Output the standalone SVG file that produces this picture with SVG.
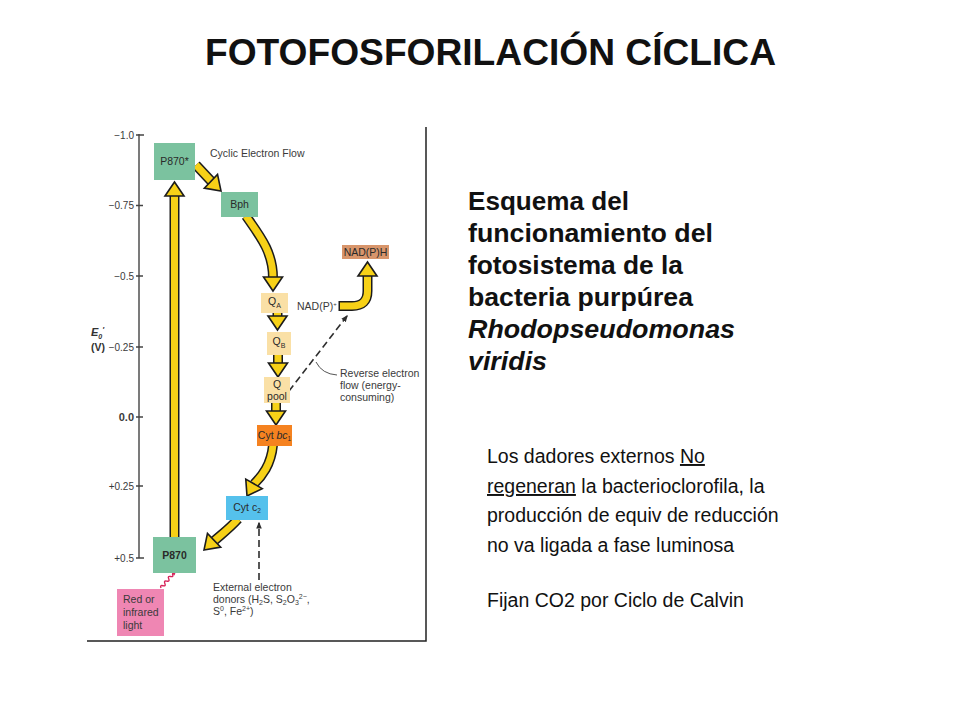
<svg xmlns="http://www.w3.org/2000/svg" xmlns:xlink="http://www.w3.org/1999/xlink" width="960" height="720" viewBox="0 0 960 720">
<defs>
<style>
text{font-family:"Liberation Sans",Arial,sans-serif;}
.ax{fill:#3a3a3a;font-size:10px;}
.lbl{fill:#3a3a3a;font-size:10.5px;}
.bx{font-size:10.5px;fill:#2a2a2a;text-anchor:middle;}
.so{fill:none;stroke:#1c1c1c;stroke-width:10;}
.si{fill:none;stroke:#f7d117;stroke-width:7;}
.dash{fill:none;stroke:#2e2e2e;stroke-width:1.6;stroke-dasharray:7,4;}
.g{fill:#7bc29f;}
.q{fill:#fae0a6;}
.rt{fill:#111;font-size:25px;font-weight:bold;}
.bt{fill:#111;font-size:19.5px;}
</style>
<path id="ah" d="M0,0 L-14,-9.5 L-14,9.5 Z" fill="#f7d117" stroke="#1c1c1c" stroke-width="1.6" stroke-linejoin="miter"/>
<marker id="dm" viewBox="0 0 10 10" refX="8" refY="5" markerWidth="7" markerHeight="7" markerUnits="userSpaceOnUse" orient="auto"><path d="M0,1 L10,5 L0,9 Z" fill="#2e2e2e"/></marker>
<marker id="rm" viewBox="0 0 10 10" refX="8" refY="5" markerWidth="6" markerHeight="6" markerUnits="userSpaceOnUse" orient="auto"><path d="M0,1 L10,5 L0,9 Z" fill="#d6245a"/></marker>
</defs>
<rect width="960" height="720" fill="#ffffff"/>

<text x="205" y="65" font-size="36" font-weight="bold" fill="#111" textLength="571" lengthAdjust="spacingAndGlyphs">FOTOFOSFORILACIÓN CÍCLICA</text>

<g id="frame" fill="none" stroke="#222" stroke-width="1.5">
<path d="M426,127 V641 H87"/>
</g>

<g id="axis">
<path d="M139,134 V558 M136,135 H144 M136,205.5 H143 M136,276 H143 M136,347 H143 M136,417 H143 M136,486 H143 M136,558 H144" fill="none" stroke="#444" stroke-width="1.4"/>
<g class="ax" text-anchor="end">
<text x="134" y="139">−1.0</text>
<text x="134" y="209">−0.75</text>
<text x="134" y="280">−0.5</text>
<text x="134" y="351">−0.25</text>
<text x="134" y="421" font-weight="bold" font-size="11">0.0</text>
<text x="134" y="490">+0.25</text>
<text x="134" y="562">+0.5</text>
</g>
<text x="91" y="336" font-size="11" font-weight="bold" font-style="italic" fill="#333">E<tspan font-size="7" dy="3">0</tspan><tspan font-size="8" dy="-7">′</tspan></text>
<text x="91" y="351" font-size="10.5" font-weight="bold" fill="#333">(V)</text>
</g>

<g id="connectors">
<path class="so" d="M174.5,539 V195"/><path class="si" d="M174.5,537 V195"/>
<use xlink:href="#ah" transform="translate(174.5,182) rotate(-90)"/>
<path class="so" d="M196,165 L211,181"/><path class="si" d="M196,165 L211,181"/>
<use xlink:href="#ah" transform="translate(221,191) rotate(44)"/>
<path class="so" d="M246,216 C260,236 273,252 273,278"/><path class="si" d="M246,216 C260,236 273,252 273,278"/>
<use xlink:href="#ah" transform="translate(273,291) rotate(90)"/>
<path class="so" d="M277.5,312 V317"/><path class="si" d="M277.5,312 V317"/>
<use xlink:href="#ah" transform="translate(277.5,330) rotate(90)"/>
<path class="so" d="M278,354 V364"/><path class="si" d="M278,354 V364"/>
<use xlink:href="#ah" transform="translate(278,377) rotate(90)"/>
<path class="so" d="M276,402 V412"/><path class="si" d="M276,402 V412"/>
<use xlink:href="#ah" transform="translate(276,425) rotate(90)"/>
<path class="so" d="M273,445 C271,465 262,476 254,484"/><path class="si" d="M273,445 C271,465 262,476 254,484"/>
<use xlink:href="#ah" transform="translate(247,496) rotate(120)"/>
<path class="so" d="M238,519 C230,528 222,534 214,541"/><path class="si" d="M238,519 C230,528 222,534 214,541"/>
<use xlink:href="#ah" transform="translate(204,550) rotate(136)"/>
<path class="so" d="M338.5,306 H352 Q367.5,306 367.5,291 V276"/><path class="si" d="M340,306 H352 Q367.5,306 367.5,291 V276"/>
<use xlink:href="#ah" transform="translate(367.5,262) rotate(-90)"/>
<path class="dash" d="M289,391 L347,316" marker-end="url(#dm)"/>
<path d="M316,362 Q322,374 337,375" fill="none" stroke="#555" stroke-width="1"/>
<path class="dash" d="M259,580 V523" stroke-dasharray="8,5" marker-end="url(#dm)"/>
<path d="M0,0 q1.5,-3 3,0 t3,0 t3,0 t3,0 t3,0 t3,0 L23,0" transform="translate(161,588) rotate(-50)" fill="none" stroke="#d6245a" stroke-width="1.4" marker-end="url(#rm)"/>
</g>

<g id="node-p870star"><rect class="g" x="154" y="143" width="41" height="37"/><text class="bx" x="174.5" y="165">P870*</text></g>
<g id="node-bph"><rect class="g" x="221" y="192" width="37" height="25"/><text class="bx" x="239.5" y="208">Bph</text></g>
<g id="node-qa"><rect class="q" x="261" y="293" width="27" height="20"/><text class="bx" x="274.5" y="305">Q<tspan font-size="7" dy="3">A</tspan></text></g>
<g id="node-qb"><rect class="q" x="267" y="332" width="24" height="23"/><text class="bx" x="279" y="345">Q<tspan font-size="7" dy="3">B</tspan></text></g>
<g id="node-qpool"><rect class="q" x="264" y="377" width="26" height="26"/><text class="bx" x="277" y="388">Q</text><text class="bx" x="277" y="400">pool</text></g>
<g id="node-cytbc1"><rect x="257" y="425" width="35" height="21" fill="#f58220"/><text class="bx" x="274.5" y="439" font-size="10">Cyt <tspan font-style="italic">bc</tspan><tspan font-size="6.5" dy="2">1</tspan></text></g>
<g id="node-cytc2"><rect x="226" y="496" width="42" height="24" fill="#55c1ec"/><text class="bx" x="247" y="511" font-size="10">Cyt c<tspan font-size="6.5" dy="2">2</tspan></text></g>
<g id="node-p870"><rect class="g" x="153" y="537" width="43" height="36"/><text class="bx" x="174.5" y="559" font-weight="bold" font-size="11">P870</text></g>
<g id="node-nadph"><rect x="342" y="245" width="47" height="14" fill="#d8956b"/><text class="bx" x="365.5" y="255.5" font-size="8.5">NAD(P)H</text></g>
<g id="node-light"><rect x="117" y="589" width="47" height="47" fill="#ef86b3"/>
<text class="lbl" x="123" y="603" fill="#333">Red or</text><text class="lbl" x="123" y="616" fill="#333">infrared</text><text class="lbl" x="123" y="629" fill="#333">light</text></g>

<g id="labels">
<text class="lbl" x="210" y="157">Cyclic Electron Flow</text>
<text class="lbl" x="297" y="310" font-size="9">NAD(P)<tspan font-size="6" dy="-4">+</tspan></text>
<text class="lbl" x="340" y="377">Reverse electron</text>
<text class="lbl" x="340" y="389">flow (energy-</text>
<text class="lbl" x="340" y="401">consuming)</text>
<text class="lbl" x="213" y="591">External electron</text>
<text class="lbl" x="213" y="603">donors (H<tspan font-size="7" dy="2">2</tspan><tspan dy="-2">S, S</tspan><tspan font-size="7" dy="2">2</tspan><tspan dy="-2">O</tspan><tspan font-size="7" dy="2">3</tspan><tspan font-size="7" dy="-6">2−</tspan><tspan dy="4">,</tspan></text>
<text class="lbl" x="213" y="615">S<tspan font-size="7" dy="-4">0</tspan><tspan dy="4">, Fe</tspan><tspan font-size="7" dy="-4">2+</tspan><tspan dy="4">)</tspan></text>
</g>

<g id="desc">
<text class="rt" x="468" y="210" textLength="161" lengthAdjust="spacingAndGlyphs">Esquema del</text>
<text class="rt" x="468" y="242" textLength="245" lengthAdjust="spacingAndGlyphs">funcionamiento del</text>
<text class="rt" x="468" y="274" textLength="215" lengthAdjust="spacingAndGlyphs">fotosistema de la</text>
<text class="rt" x="468" y="306" textLength="225" lengthAdjust="spacingAndGlyphs">bacteria purpúrea</text>
<text class="rt" x="468" y="338" font-style="italic" textLength="267" lengthAdjust="spacingAndGlyphs">Rhodopseudomonas</text>
<text class="rt" x="468" y="370" font-style="italic" textLength="79" lengthAdjust="spacingAndGlyphs">viridis</text>
</g>

<g id="notes">
<text class="bt" x="487" y="463">Los dadores externos <tspan text-decoration="underline">No</tspan></text>
<text class="bt" x="487" y="493"><tspan text-decoration="underline">regeneran</tspan> la bacterioclorofila, la</text>
<text class="bt" x="487" y="522">producción de equiv de reducción</text>
<text class="bt" x="487" y="552">no va ligada a fase luminosa</text>
<text class="bt" x="487" y="607">Fijan CO2 por Ciclo de Calvin</text>
</g>
</svg>
